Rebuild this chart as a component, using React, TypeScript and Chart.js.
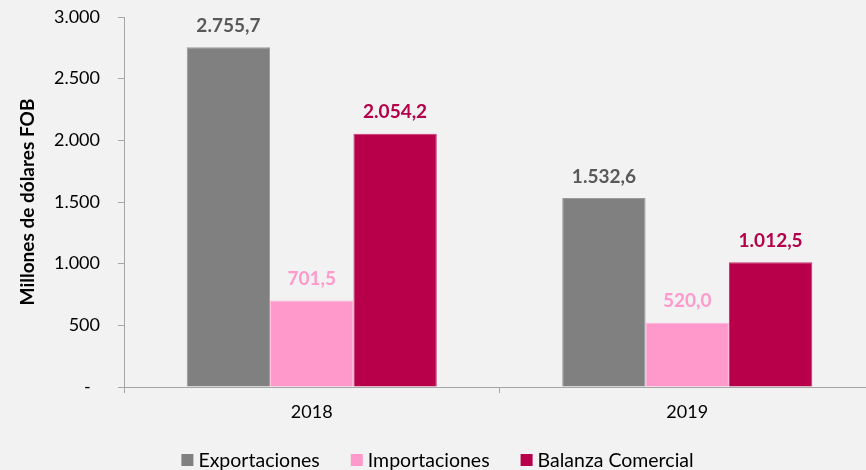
import React, { useEffect, useRef } from "react";
import { Chart, registerables } from "chart.js";

Chart.register(...registerables);

const categories = ["2018", "2019"];
const seriesNames = ["Exportaciones", "Importaciones", "Balanza Comercial"];
const exportaciones = [2755.7, 1532.6];
const importaciones = [701.5, 520.0];
const balanza = [2054.2, 1012.5];
const barColors = ["#808080", "#ff99cc", "#b8004a"];
const borderColors = ["#9a9a9a", "#ffb3d9", "#c8336e"];
const labelColors = ["#595959", "#ff99cc", "#b5004a"];
const yTicks = [0, 500, 1000, 1500, 2000, 2500, 3000];

const FONT = "Lato";
const W = 875;
const H = 470;

function fmt(v: number, dec: number): string {
  const s = v.toFixed(dec);
  const [intPart, decPart] = s.split(".");
  const withDots = intPart.replace(/\B(?=(\d{3})+(?!\d))/g, ".");
  return decPart ? withDots + "," + decPart : withDots;
}

const dataLabelPlugin = {
  id: "dataLabels",
  afterDatasetsDraw(chart: any) {
    const ctx = chart.ctx;
    ctx.save();
    ctx.font = `bold 19px ${FONT}`;
    ctx.textAlign = "center";
    ctx.textBaseline = "bottom";
    chart.data.datasets.forEach((ds: any, i: number) => {
      const meta = chart.getDatasetMeta(i);
      ctx.fillStyle = labelColors[i];
      meta.data.forEach((el: any, j: number) => {
        ctx.fillText(fmt(ds.data[j], 1), el.x, el.y - 12);
      });
    });
    ctx.restore();
  },
};

const legendPlugin = {
  id: "customLegend",
  afterDraw(chart: any) {
    const ctx = chart.ctx;
    ctx.save();
    ctx.font = `19.5px ${FONT}`;
    ctx.textBaseline = "middle";
    ctx.textAlign = "left";
    const box = 12;
    const gapBox = 5;
    const gapItem = 31;
    const widths = seriesNames.map((n) => ctx.measureText(n).width);
    const total =
      widths.reduce((a, w) => a + box + gapBox + w, 0) + gapItem * (seriesNames.length - 1);
    let x = chart.width / 2 - total / 2;
    const y = 460;
    seriesNames.forEach((name, i) => {
      ctx.fillStyle = barColors[i];
      ctx.fillRect(x, y - box / 2, box, box);
      x += box + gapBox;
      ctx.fillStyle = "#000000";
      ctx.fillText(name, x, y + 1);
      x += widths[i] + gapItem;
    });
    ctx.restore();
  },
};

const bgPlugin = {
  id: "bg",
  beforeDraw(chart: any) {
    const ctx = chart.ctx;
    ctx.save();
    ctx.fillStyle = "#f2f2f2";
    ctx.fillRect(0, 0, chart.width, chart.height);
    ctx.restore();
  },
};

export default function App() {
  const ref = useRef<HTMLCanvasElement | null>(null);
  useEffect(() => {
    if (!ref.current) return;
    const values = [exportaciones, importaciones, balanza];
    const chart = new Chart(ref.current, {
      type: "bar",
      data: {
        labels: categories,
        datasets: seriesNames.map((name, i) => ({
          label: name,
          data: values[i],
          backgroundColor: barColors[i],
          borderColor: borderColors[i],
          borderWidth: 1,
          categoryPercentage: 0.666,
          barPercentage: 1,
        })),
      },
      options: {
        animation: false,
        responsive: false,
        maintainAspectRatio: false,
        layout: { padding: { top: 17, right: 0, left: 0, bottom: 0 } },
        plugins: {
          legend: { display: false },
          tooltip: { enabled: false },
        },
        scales: {
          x: {
            afterFit: (scale: any) => {
              scale.height = 83;
              scale.paddingLeft = 0;
              scale.paddingRight = 0;
            },
            grid: {
              offset: true,
              drawOnChartArea: false,
              drawTicks: true,
              tickLength: 6,
              color: "#a6a6a6",
            },
            border: { color: "#a6a6a6", width: 1 },
            ticks: {
              font: { family: FONT, size: 18 },
              color: "#000000",
              padding: 8,
            },
          },
          y: {
            min: 0,
            max: 3000,
            afterBuildTicks: (scale: any) => {
              scale.ticks = yTicks.map((v) => ({ value: v }));
            },
            afterFit: (scale: any) => {
              scale.width = 124;
              scale.paddingTop = 0;
              scale.paddingBottom = 0;
            },
            grid: {
              drawOnChartArea: false,
              drawTicks: true,
              tickLength: 6,
              color: "#a6a6a6",
            },
            border: { color: "#a6a6a6", width: 1 },
            ticks: {
              font: { family: FONT, size: 18 },
              color: "#000000",
              padding: 18,
              callback: (v: any) => (Number(v) === 0 ? "-  " : fmt(Number(v), 0)),
            },
            title: {
              display: true,
              text: "Millones de dólares FOB",
              font: { family: FONT, size: 19, weight: "bold" },
              color: "#000000",
              padding: { top: 16, bottom: 0 },
            },
          },
        },
      },
      plugins: [bgPlugin, dataLabelPlugin, legendPlugin],
    });
    return () => chart.destroy();
  }, []);
  return (
    <div style={{ position: "fixed", left: 0, top: 0, width: W, height: H, background: "#f2f2f2" }}>
      <canvas ref={ref} width={W} height={H} style={{ width: W, height: H, display: "block" }} />
    </div>
  );
}
